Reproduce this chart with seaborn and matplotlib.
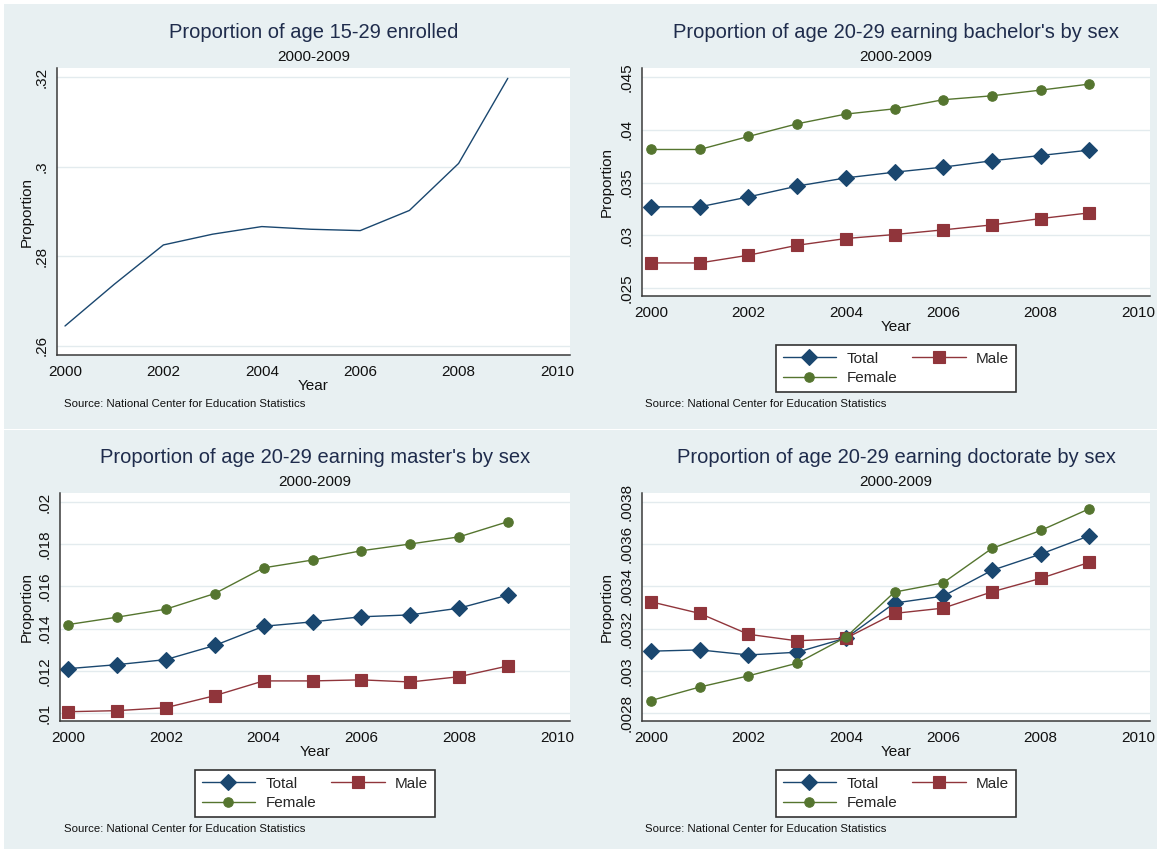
import matplotlib
matplotlib.use("Agg")
import matplotlib.pyplot as plt
import seaborn as sns
from matplotlib.patches import Rectangle

# ---- data -------------------------------------------------------------
years = list(range(2000, 2010))

enrolled = [0.2644, 0.2737, 0.2825, 0.2849, 0.2866, 0.2860, 0.2857, 0.2902, 0.3007, 0.3197]

bach_total = [0.03271, 0.03271, 0.03365, 0.03467, 0.03545, 0.03599, 0.03647, 0.03707, 0.03757, 0.03808]
bach_male = [0.02740, 0.02740, 0.02813, 0.02907, 0.02971, 0.03009, 0.03053, 0.03100, 0.03160, 0.03214]
bach_female = [0.03814, 0.03814, 0.03937, 0.04057, 0.04149, 0.04199, 0.04285, 0.04322, 0.04376, 0.04433]

mast_total = [0.01210, 0.01229, 0.01253, 0.01320, 0.01411, 0.01432, 0.01456, 0.01465, 0.01497, 0.01559]
mast_male = [0.01006, 0.01011, 0.01025, 0.01082, 0.01152, 0.01152, 0.01157, 0.01147, 0.01172, 0.01223]
mast_female = [0.01419, 0.01454, 0.01492, 0.01566, 0.01688, 0.01725, 0.01769, 0.01801, 0.01835, 0.01907]

doc_total = [0.003093, 0.003099, 0.003075, 0.003088, 0.003155, 0.003321, 0.003354, 0.003476, 0.003553, 0.003640]
doc_male = [0.003327, 0.003272, 0.003173, 0.003142, 0.003154, 0.003272, 0.003297, 0.003374, 0.003438, 0.003514]
doc_female = [0.002859, 0.002923, 0.002976, 0.003036, 0.003159, 0.003373, 0.003417, 0.003580, 0.003665, 0.003768]

series_names = ["Total", "Male", "Female"]

x_ticks = [2000, 2002, 2004, 2006, 2008, 2010]

enr_yticks = [0.26, 0.28, 0.30, 0.32]
enr_ylabels = [".26", ".28", ".3", ".32"]
bach_yticks = [0.025, 0.030, 0.035, 0.040, 0.045]
bach_ylabels = [".025", ".03", ".035", ".04", ".045"]
mast_yticks = [0.010, 0.012, 0.014, 0.016, 0.018, 0.020]
mast_ylabels = [".01", ".012", ".014", ".016", ".018", ".02"]
doc_yticks = [0.0028, 0.0030, 0.0032, 0.0034, 0.0036, 0.0038]
doc_ylabels = [".0028", ".003", ".0032", ".0034", ".0036", ".0038"]

titles = [
    "Proportion of age 15-29 enrolled",
    "Proportion of age 20-29 earning bachelor's by sex",
    "Proportion of age 20-29 earning master's by sex",
    "Proportion of age 20-29 earning doctorate by sex",
]
subtitle = "2000-2009"
source = "Source: National Center for Education Statistics"

# ---- style ------------------------------------------------------------
sns.set_theme(style="white")
plt.rcParams["font.family"] = ["Liberation Sans", "DejaVu Sans"]

NAVY = "#1a476f"
MAROON = "#90353b"
GREEN = "#55752f"
BG = "#e8f0f2"
GRID = "#e3ebee"
AXIS = "#3a3a3a"
TITLE_C = "#1f2c4c"
TXT = "#111111"

W, H = 1159, 850
fig = plt.figure(figsize=(W / 100, H / 100), dpi=100, facecolor="white")


def fx(x):
    return x / W


def fy(y):
    return 1 - y / H


# graph-region bands
for top, bot in [(4, 428.5), (429.5, 849)]:
    fig.patches.append(Rectangle((fx(4), fy(bot)), 1153 / W, (bot - top) / H,
                                 transform=fig.transFigure, facecolor=BG,
                                 edgecolor="none", zorder=-1))

styles = {
    "Total": dict(color=NAVY, marker="D", markersize=7.8),
    "Male": dict(color=MAROON, marker="s", markersize=8.8),
    "Female": dict(color=GREEN, marker="o", markersize=6.8),
}

# plot-region geometry in panel pixels: left edge, x of 2000, x of 2010
panels = [
    dict(origin=(0, 0), title=titles[0], series=None, yticks=enr_yticks,
         ylabels=enr_ylabels, ylim=(0.25792, 0.32201), bottom=355,
         left=57, x0=65, x1=557),
    dict(origin=(580, 0), title=titles[1],
         series=[bach_total, bach_male, bach_female], yticks=bach_yticks,
         ylabels=bach_ylabels, ylim=(0.02427, 0.045853), bottom=296,
         left=62, x0=71, x1=558),
    dict(origin=(0, 425), title=titles[2],
         series=[mast_total, mast_male, mast_female], yticks=mast_yticks,
         ylabels=mast_ylabels, ylim=(0.00962, 0.020427), bottom=296,
         left=60, x0=68, x1=557),
    dict(origin=(580, 425), title=titles[3],
         series=[doc_total, doc_male, doc_female], yticks=doc_yticks,
         ylabels=doc_ylabels, ylim=(0.002762, 0.0038427), bottom=296,
         left=62, x0=71, x1=558),
]

RIGHT, TOP = 570, 68
TICK_LEN = 5  # px
PT = 0.72     # points per pixel at 100 dpi

for p in panels:
    ox, oy = p["origin"]
    l, r, t, b = ox + p["left"], ox + RIGHT, oy + TOP, oy + p["bottom"]
    wpx, hpx = r - l, b - t
    ax = fig.add_axes([fx(l), fy(b), wpx / W, hpx / H])
    ax.set_facecolor("white")

    if p["series"] is None:
        sns.lineplot(x=years, y=enrolled, ax=ax, color=NAVY, linewidth=1.0)
    else:
        for name, vals in zip(series_names, p["series"]):
            st = styles[name]
            sns.lineplot(x=years, y=vals, ax=ax, color=st["color"], linewidth=1.0,
                         marker=st["marker"], markersize=st["markersize"],
                         markeredgecolor=st["color"], markeredgewidth=0.8,
                         label=name)

    per_year = (p["x1"] - p["x0"]) / 10
    ax.set_xlim(2000 - (p["x0"] - p["left"]) / per_year,
                2010 + (RIGHT - p["x1"]) / per_year)
    ax.set_ylim(*p["ylim"])

    ax.set_xticks(x_ticks, [str(v) for v in x_ticks], fontsize=11, color=TXT)
    ax.set_yticks(p["yticks"], p["ylabels"], fontsize=11, color=TXT,
                  rotation=90, ha="center", va="center")
    ax.tick_params(axis="both", direction="out", length=TICK_LEN * PT,
                   width=0.9, color=AXIS)
    ax.tick_params(axis="y", pad=(15.5 - TICK_LEN) * PT)
    ax.tick_params(axis="x", pad=(17.3 - TICK_LEN - 7) * PT)

    ax.yaxis.grid(True, color=GRID, linewidth=1.0)
    ax.xaxis.grid(False)
    ax.set_axisbelow(True)
    for s in ["top", "right"]:
        ax.spines[s].set_visible(False)
    for s in ["left", "bottom"]:
        ax.spines[s].set_color(AXIS)
        ax.spines[s].set_linewidth(1.1)

    ax.set_xlabel("Year", fontsize=11, color=TXT)
    ax.xaxis.set_label_coords(0.5, -31 / hpx)
    ax.xaxis.label.set_va("center")
    ax.set_ylabel("Proportion", fontsize=11, color=TXT)
    ax.yaxis.set_label_coords(-(p["left"] - 27) / wpx, 0.5)
    ax.yaxis.label.set_va("center")

    cx = ox + (p["left"] + RIGHT) / 2
    fig.text(fx(cx), fy(oy + 32.3), p["title"], ha="center", va="center",
             fontsize=14.5, color=TITLE_C)
    fig.text(fx(cx), fy(oy + 56.7), subtitle, ha="center", va="center",
             fontsize=11, color=TXT)
    fig.text(fx(ox + 64.5), fy(oy + 404.3), source, ha="left", va="center",
             fontsize=8.2, color=TXT,
             family=["Liberation Sans Narrow", "Liberation Sans", "DejaVu Sans"])

    if p["series"] is not None:
        handles, labels = ax.get_legend_handles_labels()
        order = [labels.index(n) for n in ["Total", "Female", "Male"]]
        leg = ax.legend([handles[i] for i in order], [labels[i] for i in order],
                        ncol=2, loc="center",
                        bbox_to_anchor=(fx(cx), fy(oy + 368.3)),
                        bbox_transform=fig.transFigure,
                        fontsize=11, frameon=True, fancybox=False,
                        handlelength=3.5, handletextpad=0.7, columnspacing=0.95,
                        labelspacing=0.35, borderpad=0.45)
        fr = leg.get_frame()
        fr.set_edgecolor("#333333")
        fr.set_linewidth(1.2)
        fr.set_facecolor("white")
        fr.set_alpha(1)

fig.savefig("out.png", dpi=100, facecolor="white")
